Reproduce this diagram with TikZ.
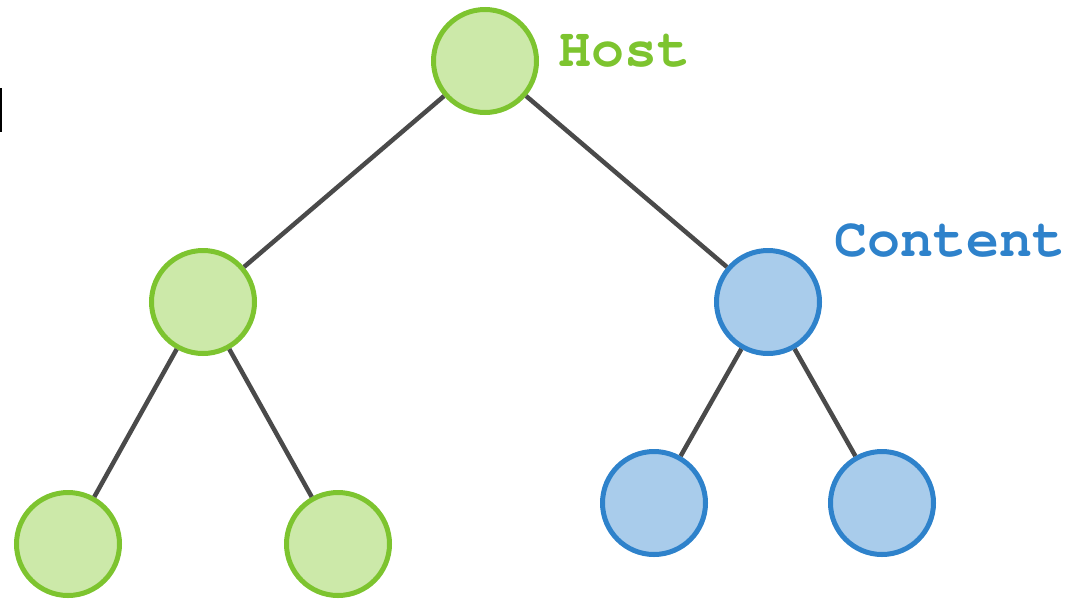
\documentclass[tikz,border=0pt]{standalone}
\usepackage[T1]{fontenc}
\definecolor{gfill}{HTML}{CCE9A9}
\definecolor{gline}{HTML}{7DC42F}
\definecolor{bfill}{HTML}{A9CCEB}
\definecolor{bline}{HTML}{2E82CB}
\definecolor{edge}{HTML}{4A4A4A}
\tikzset{
  gnode/.style={circle, draw=gline, fill=gfill, line width=5pt, minimum size=103pt, inner sep=0pt},
  bnode/.style={circle, draw=bline, fill=bfill, line width=5pt, minimum size=103pt, inner sep=0pt},
  link/.style={draw=edge, line width=4.5pt},
  lbl/.style={font=\fontfamily{pcr}\fontseries{b}\fontsize{55}{60}\selectfont, inner sep=0pt, anchor=base west}
}
\begin{document}
\begin{tikzpicture}[x=1pt,y=-1pt]
\useasboundingbox (0,0) rectangle (1073,603);
\node[gnode] (root) at (485,61) {};
\node[gnode] (lm) at (203,302) {};
\node[bnode] (rm) at (768,302) {};
\node[gnode] (ll) at (68,544) {};
\node[gnode] (lr) at (338,544) {};
\node[bnode] (rl) at (654,503) {};
\node[bnode] (rr) at (882,503) {};
\draw[link] (root) -- (lm);
\draw[link] (root) -- (rm);
\draw[link] (lm) -- (ll);
\draw[link] (lm) -- (lr);
\draw[link] (rm) -- (rl);
\draw[link] (rm) -- (rr);
\node[lbl, text=gline] (host) at (558,66) {Host};
\node[lbl, text=bline] (content) at (834,256) {Content};
\draw[line width=2pt, black] (1,88) -- (1,132);
\end{tikzpicture}
\end{document}
